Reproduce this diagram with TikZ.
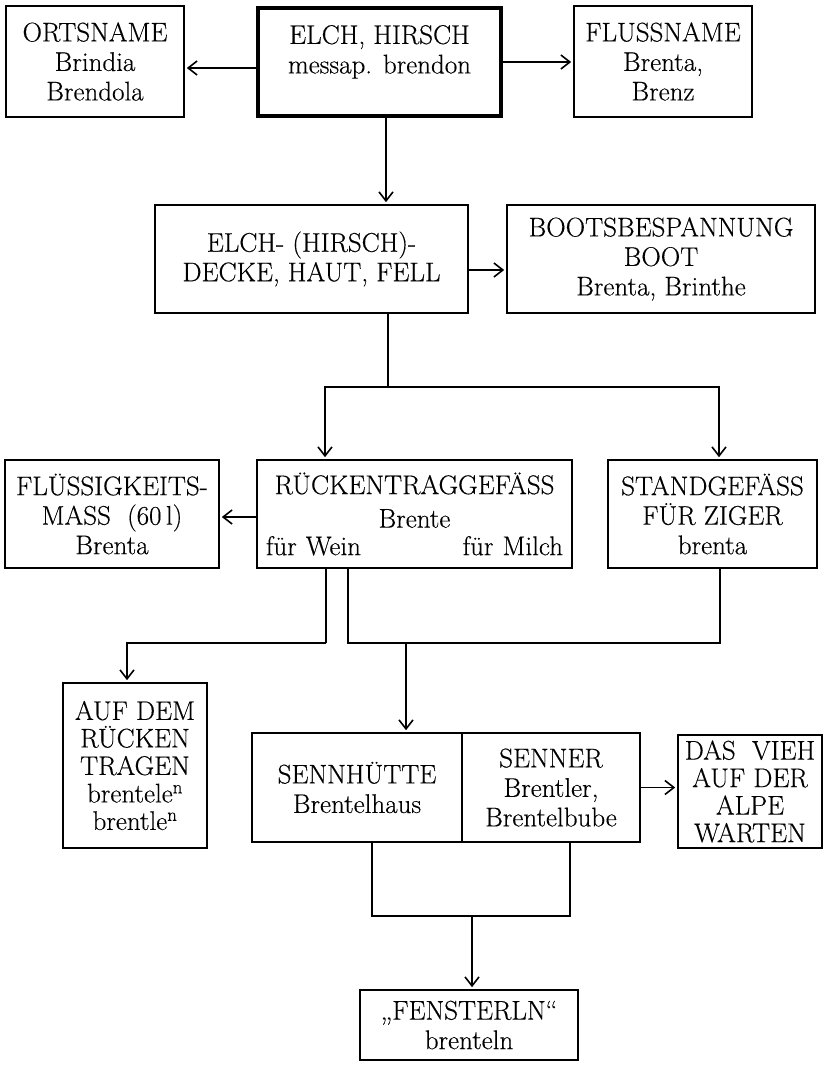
\documentclass[tikz,border=0pt]{standalone}
\usepackage{fontspec}
\setmainfont{Latin Modern Roman}[FakeBold=0.35]
\usepackage{tikz}
\usetikzlibrary{arrows.meta,positioning,calc}
\tikzset{
  word/.style={draw,rectangle,line width=1.6pt,inner sep=0pt,align=center,font=\fontsize{27}{29.5}\selectfont},
  tall/.style={word,font=\fontsize{27}{27.5}\selectfont},
  root/.style={word,line width=3.6pt},
  arr/.style={-{Straight Barb[length=9pt,width=14pt]},line width=1.6pt,shorten >=2pt},
  link/.style={line width=1.6pt}
}

\begin{document}
\begin{tikzpicture}[x=1pt,y=-1pt]
  \useasboundingbox (0,0) rectangle (824,1065);

  \node[word,minimum width=178pt,minimum height=111pt] (ortsname) at (95,61.5) {ORTSNAME\\Brindia\\Brendola};
  \node[root,minimum width=243pt,minimum height=108pt] (elch) at (379.5,62) {ELCH, HIRSCH\\messap. brendon\\[-4pt]};
  \node[word,minimum width=178pt,minimum height=111pt] (fluss) at (663,61.5) {FLUSSNAME\\Brenta,\\Brenz};

  \node[word,minimum width=313pt,minimum height=108pt] (decke) at (311.5,259) {ELCH- (HIRSCH)-\\DECKE, HAUT, FELL};
  \node[word,minimum width=308pt,minimum height=108pt] (boots) at (661,259) {BOOTSBESPANNUNG\\BOOT\\Brenta, Brinthe};

  \node[word,minimum width=214pt,minimum height=108pt] (fluessig) at (112,514) {FLÜSSIGKEITS-\\MASS\ \ (60\,l)\\Brenta};
  \node[word,minimum width=315pt,minimum height=108pt,text width=297pt] (ruecken) at (414.5,514) {RÜCKENTRAGGEFÄSS\\[4pt]Brente\\[-2pt]für Wein\hfill für Milch};
  \node[word,minimum width=209pt,minimum height=108pt] (stand) at (712.5,514) {STANDGEFÄSS\\FÜR ZIGER\\brenta};

  \node[tall,minimum width=144pt,minimum height=165pt] (aufdem) at (135,765.5) {AUF DEM\\RÜCKEN\\TRAGEN\\brentele\textsuperscript{n}\\brentle\textsuperscript{n}};
  \node[word,minimum width=210pt,minimum height=109pt] (sennhuette) at (357,787.5) {SENNHÜTTE\\Brentelhaus};
  \node[word,minimum width=178pt,minimum height=109pt] (senner) at (551,787.5) {SENNER\\Brentler,\\Brentelbube};
  \node[tall,minimum width=144pt,minimum height=113pt] (vieh) at (750,791.5) {DAS\ \ VIEH\\AUF DER\\ALPE\\WARTEN};

  \node[word,minimum width=218pt,minimum height=70pt] (fenster) at (469,1025) {„FENSTERLN“\\brenteln};

  \draw[arr] ($(elch.west)+(0,6)$) -- ($(ortsname.east)+(0,6.5)$);
  \draw[arr] (elch.east) -- (elch.east -| fluss.west);
  \coordinate (e1) at ($(elch.south)+(6.5,0)$);
  \draw[arr] (e1) -- (e1 |- decke.north);
  \draw[arr] ($(decke.east)+(0,11)$) -- ($(boots.west)+(0,11)$);

  \coordinate (fork) at (388,387);
  \draw[link] (fork |- decke.south) -- (fork);
  \draw[arr] (fork) -| ($(ruecken.north)+(-89.5,0)$);
  \draw[arr] (fork) -| ($(stand.north)+(6.5,0)$);

  \draw[arr] ($(ruecken.west)+(0,3)$) -- ($(fluessig.east)+(0,3)$);

  \coordinate (lleg) at (326,643);
  \coordinate (rleg) at (348,643);
  \coordinate (drop) at (406,643);
  \draw[link] (lleg |- ruecken.south) -- (lleg);
  \draw[arr] (lleg) -| ($(aufdem.north)+(-8,0)$);
  \draw[link] (rleg |- ruecken.south) -- (rleg) -| ($(stand.south)+(7.5,0)$);
  \draw[arr] (drop) -- (drop |- sennhuette.north);

  \draw[arr] (senner.east) -- (senner.east -| vieh.west);

  \coordinate (cup) at (472,916);
  \draw[link] ($(sennhuette.south)+(15,0)$) |- (cup) -| ($(senner.south)+(19,0)$);
  \draw[arr] (cup) -- (cup |- fenster.north);
\end{tikzpicture}
\end{document}
